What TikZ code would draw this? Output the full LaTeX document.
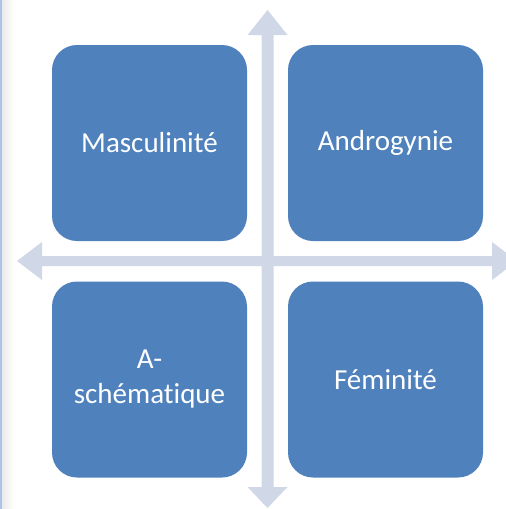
\documentclass[tikz,border=0pt]{standalone}
\usepackage{fontspec}
\setmainfont{Carlito}[Ligatures=NoCommon]
\definecolor{boxblue}{HTML}{4F81BD}
\definecolor{arrowgray}{HTML}{D0D8E8}
\definecolor{edgeblue}{HTML}{A8C4E8}
\begin{document}
\begin{tikzpicture}[x=1pt,y=-1pt,
  quad/.style={fill=boxblue, draw=none, rounded corners=25pt, minimum width=195pt, minimum height=196pt, inner sep=0pt, text=white, font=\fontsize{29}{35}\selectfont, align=center},
  arrowshape/.style={fill=arrowgray, draw=none}]
\useasboundingbox (0,0) rectangle (506,509);
\clip (0,0) rectangle (506,509);
\fill[white] (0,0) rectangle (506,509);
% left edge strip
\shade[left color=black!8, right color=white] (2,0) rectangle (14,509);
\fill[edgeblue] (0,0) rectangle (1.5,509);
% axis end points
\coordinate (top) at (267.5,10);
\coordinate (bottom) at (267.5,508);
\coordinate (left) at (17,261);
\coordinate (right) at (517,261);
% vertical double arrow
\fill[arrowshape] (top) -- (287.5,35) -- (273.5,35) -- (273.5,487) -- (287.5,487) -- (bottom)
  -- (247.5,487) -- (261.5,487) -- (261.5,35) -- (247.5,35) -- cycle;
% horizontal double arrow
\fill[arrowshape] (left) -- (42,242) -- (42,256) -- (492,256) -- (492,242) -- (right)
  -- (492,280) -- (492,266) -- (42,266) -- (42,280) -- cycle;
% boxes
\node[quad] (masc) at (149.5,143) {Masculinit\'e};
\node[quad] (andro) at (385.5,143) {Androgynie};
\node[quad] (asch) at (149.5,379.5) {A-\\sch\'ematique};
\node[quad] (fem) at (385.5,379.5) {F\'eminit\'e};
\end{tikzpicture}
\end{document}
